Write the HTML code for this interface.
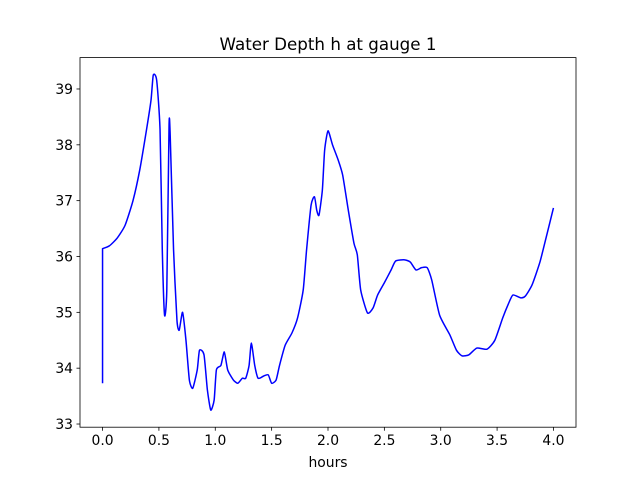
<!DOCTYPE html>
<html><head><meta charset="utf-8"><style>
html,body{margin:0;padding:0;background:#fff;}
svg{display:block;font-family:"DejaVu Sans","Liberation Sans",sans-serif;}
</style></head><body>
<svg id="chart" width="640" height="480" viewBox="0 0 640 480">
<rect x="0" y="0" width="640" height="480" fill="#fff"/>
<text x="328" y="50" text-anchor="middle" font-size="16.7" fill="#000">Water Depth h at gauge 1</text>
<g id="xticks"></g>
<g id="yticks"></g>
<path id="line" fill="none" stroke="#0000ff" stroke-width="1.5" stroke-linejoin="round"/>
<rect x="80" y="57.6" width="496" height="369.6" fill="none" stroke="#000" stroke-width="0.8"/>
<text x="328" y="467" text-anchor="middle" font-size="13.9" fill="#000">hours</text>
</svg>
<script>
const hours=[0,0,0.06,0.13,0.2,0.27,0.33,0.39,0.43,0.45,0.48,0.51,0.53,0.55,0.57,0.59,0.6,0.63,0.66,0.68,0.71,0.74,0.77,0.8,0.84,0.86,0.9,0.93,0.96,0.99,1.01,1.05,1.08,1.11,1.16,1.2,1.24,1.27,1.3,1.32,1.35,1.38,1.43,1.47,1.5,1.54,1.57,1.62,1.68,1.73,1.78,1.81,1.85,1.88,1.9,1.92,1.95,1.97,2.0,2.04,2.09,2.13,2.18,2.23,2.26,2.29,2.35,2.4,2.44,2.5,2.56,2.6,2.68,2.73,2.78,2.83,2.88,2.92,2.99,3.08,3.14,3.19,3.25,3.32,3.41,3.48,3.55,3.6,3.64,3.71,3.75,3.81,3.88,3.94,4.0];
const depth=[33.73,36.14,36.19,36.33,36.56,37.0,37.55,38.27,38.8,39.25,39.16,38.27,36.12,34.95,35.4,38.35,38.18,36.12,34.86,34.68,35.0,34.5,33.79,33.64,33.97,34.32,34.24,33.61,33.25,33.43,33.97,34.05,34.29,33.97,33.79,33.73,33.82,33.82,34.05,34.45,34.05,33.82,33.86,33.88,33.73,33.79,34.05,34.41,34.63,34.9,35.4,36.12,36.92,37.07,36.83,36.74,37.19,37.9,38.25,38.0,37.73,37.46,36.83,36.24,36.03,35.4,34.99,35.08,35.31,35.53,35.76,35.92,35.94,35.9,35.76,35.8,35.8,35.58,34.95,34.6,34.32,34.22,34.24,34.36,34.34,34.5,34.9,35.15,35.31,35.26,35.29,35.49,35.9,36.38,36.87];
const xTicks=[0,0.5,1,1.5,2,2.5,3,3.5,4];
const xTickLabels=["0.0","0.5","1.0","1.5","2.0","2.5","3.0","3.5","4.0"];
const yTicks=[33,34,35,36,37,38,39];
const yTickLabels=["33","34","35","36","37","38","39"];
const NS="http://www.w3.org/2000/svg";
const L=80,R=576,T=57.6,B=427.2;
const x0=-0.2,x1=4.2,y0=32.943,y1=39.562;
function sx(v){return L+(v-x0)/(x1-x0)*(R-L);}
function sy(v){return B-(v-y0)/(y1-y0)*(B-T);}
const pts=hours.map((h,i)=>[sx(h),sy(depth[i])]);
let d='M'+pts[0][0].toFixed(2)+','+pts[0][1].toFixed(2)+' L'+pts[1][0].toFixed(2)+','+pts[1][1].toFixed(2);
for(let i=1;i<pts.length-1;i++){
 const p0=pts[i-1===0?1:i-1],p1=pts[i],p2=pts[i+1],p3=pts[Math.min(i+2,pts.length-1)];
 const k=0.6/6;
 const c1=[p1[0]+(p2[0]-p0[0])*k,p1[1]+(p2[1]-p0[1])*k];
 const c2=[p2[0]-(p3[0]-p1[0])*k,p2[1]-(p3[1]-p1[1])*k];
 d+=' C'+c1[0].toFixed(2)+','+c1[1].toFixed(2)+' '+c2[0].toFixed(2)+','+c2[1].toFixed(2)+' '+p2[0].toFixed(2)+','+p2[1].toFixed(2);
}
document.getElementById('line').setAttribute('d',d);
const xg=document.getElementById('xticks');
xTicks.forEach((v,i)=>{
 const t=document.createElementNS(NS,'line');
 
 
 t.setAttribute('x1',sx(v));t.setAttribute('x2',sx(v));t.setAttribute('y1',B);t.setAttribute('y2',B+3.5);
 t.setAttribute('stroke','#000');t.setAttribute('stroke-width','0.8');xg.appendChild(t);
 const s=document.createElementNS(NS,'text');
 
 
 s.setAttribute('x',sx(v));s.setAttribute('y',B+18);s.setAttribute('text-anchor','middle');s.setAttribute('font-size','13.9');
 s.textContent=xTickLabels[i];xg.appendChild(s);
});
const yg=document.getElementById('yticks');
yTicks.forEach((v,i)=>{
 const t=document.createElementNS(NS,'line');
 
 
 t.setAttribute('x1',L-3.5);t.setAttribute('x2',L);t.setAttribute('y1',sy(v));t.setAttribute('y2',sy(v));
 t.setAttribute('stroke','#000');t.setAttribute('stroke-width','0.8');yg.appendChild(t);
 const s=document.createElementNS(NS,'text');
 
 
 s.setAttribute('x',L-7);s.setAttribute('y',sy(v)+5);s.setAttribute('text-anchor','end');s.setAttribute('font-size','13.9');
 s.textContent=yTickLabels[i];yg.appendChild(s);
});
</script>
</body></html>
